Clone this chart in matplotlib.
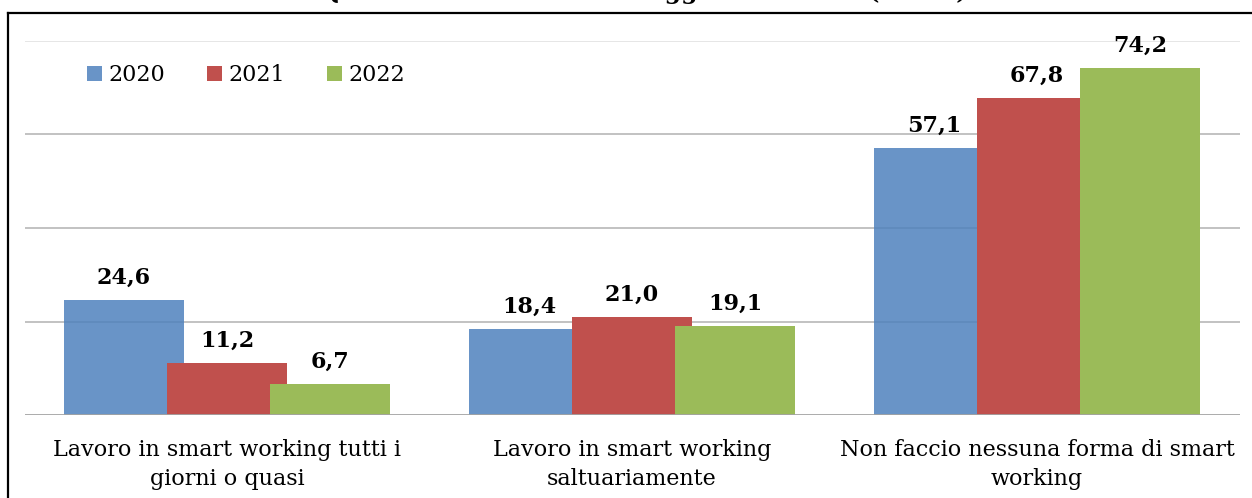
import numpy as np
import matplotlib
matplotlib.use("Agg")
import matplotlib.pyplot as plt
from matplotlib.lines import Line2D

categories = ["Lavoro in smart working tutti i\ngiorni o quasi",
              "Lavoro in smart working\nsaltuariamente",
              "Non faccio nessuna forma di smart\nworking"]
years = ["2020", "2021", "2022"]
v2020 = [24.6, 18.4, 57.1]
v2021 = [11.2, 21.0, 67.8]
v2022 = [6.7, 19.1, 74.2]
title = "Grafico 4 – Qual è la Sua situazione oggi nel lavoro? (val. %)"

colors = ["#4F81BD", "#C0504D", "#9BBB59"]
alphas = [0.85, 1.0, 1.0]

W, H = 1252, 498
fig = plt.figure(figsize=(W / 100, H / 100), dpi=100)
ax = fig.add_axes([24.5 / W, 83 / H, 1215 / W, 374 / H])

x = np.arange(len(categories))
step = 103 / 405
width = 120 / 405

# gridlines under bars
for g in [20, 40, 60]:
    ax.axhline(g, color="#bdbdbd", lw=1.3, zorder=0.5)
ax.axhline(80, color="#e4e4e4", lw=1.3, zorder=0.5)

for i, (vals, c, a, lab) in enumerate(zip([v2020, v2021, v2022], colors, alphas, years)):
    bars = ax.bar(x + (i - 1) * step, vals, width, color=c, alpha=a, label=lab, zorder=2 + i)
    ax.bar_label(bars, labels=[f"{v:.1f}".replace(".", ",") for v in vals],
                 padding=8, fontsize=16, fontweight="bold", family="DejaVu Serif", zorder=6)

ax.axhline(0, color="#a3a3a3", lw=2, zorder=7)

ax.set_xlim(-0.5, 2.5)
ax.set_ylim(0, 80)
ax.set_yticks([])
ax.set_xticks(x)
ax.set_xticklabels(categories, fontsize=16, family="DejaVu Serif", linespacing=1.45)
ax.tick_params(axis="x", length=0, pad=17)
for s in ax.spines.values():
    s.set_visible(False)

leg = ax.legend(loc="center left", bbox_to_anchor=(76 / W, 1 - 75 / H), bbox_transform=fig.transFigure,
                ncol=3, frameon=False, borderpad=0, handlelength=0.65, handleheight=0.65,
                handletextpad=0.3, columnspacing=1.9, prop={"family": "DejaVu Serif", "size": 16})

# frame of the chart area (cropped on right and bottom)
fig.add_artist(Line2D([8 / W, 1], [1 - 13 / H, 1 - 13 / H], color="black", lw=1.6, transform=fig.transFigure))
fig.add_artist(Line2D([8 / W, 8 / W], [1 - 13 / H, 0], color="black", lw=1.6, transform=fig.transFigure))

# title, mostly cut off at top edge (only descenders visible)
fig.text(967 / W, 1 + 1.5 / H, title, ha="right", va="baseline", fontsize=17,
         fontweight="bold", family="DejaVu Serif")

fig.savefig("out.png", dpi=100)
